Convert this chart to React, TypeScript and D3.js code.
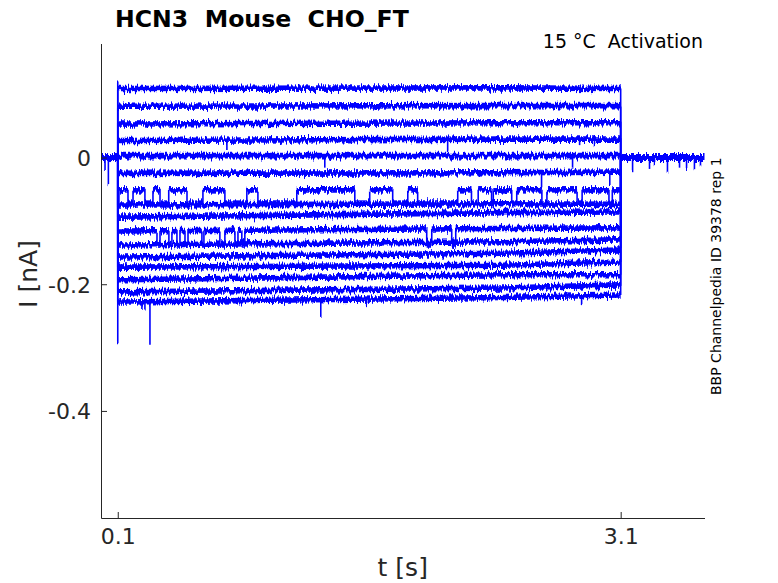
import React, { useEffect, useRef } from 'react'
import * as d3 from 'd3'

const WIDTH = 778
const HEIGHT = 583

// voltage step protocol (s)
const stepOn = 0.1
const stepOff = 3.1
const timeDomain: [number, number] = [0, 3.6]
const currentDomain: [number, number] = [-0.569, 0.18]

const timeTicks = [0.1, 3.1]
const currentTicks = [-0.4, -0.2, 0]

// times where the sweep levels were read
const sampleTimes = [0.14, 2.4, 3.09]

// level of each sweep (nA) at sampleTimes
const levelsStart = [0.109, 0.081, 0.053, 0.027, 0.003, -0.025, -0.072, -0.075, -0.094, -0.116, -0.138, -0.157, -0.173, -0.193, -0.212, -0.228]
const levelsMid = [0.110, 0.082, 0.055, 0.029, 0.003, -0.024, -0.072, -0.073, -0.087, -0.112, -0.133, -0.151, -0.170, -0.185, -0.206, -0.221]
const levelsEnd = [0.109, 0.082, 0.055, 0.029, 0.003, -0.023, -0.072, -0.074, -0.086, -0.111, -0.130, -0.146, -0.165, -0.185, -0.201, -0.217]

// sweep 7 flickers between two levels
const flickerSweep = 6
const flickerLow = -0.072
const flickerHigh = -0.051
const flickerHighTimes: [number, number][] = [
  [0.107, 0.161], [0.191, 0.262], [0.31, 0.352], [0.404, 0.513], [0.608, 0.739],
  [0.87, 0.936], [1.168, 1.514], [1.603, 1.74], [1.83, 1.889], [2.128, 2.21],
  [2.25, 2.33], [2.34, 2.45], [2.48, 2.63], [2.66, 2.84], [2.87, 3.03], [3.05, 3.1]
]

// sweep 10 dips to a lower level
const dipSweep = 9
const dipLevel = -0.138
const dipTimes: [number, number][] = [
  [0.334, 0.352], [0.405, 0.423], [0.453, 0.471], [0.501, 0.519], [0.602, 0.614],
  [0.709, 0.739], [0.799, 0.817], [0.84, 0.858], [1.943, 1.973], [2.092, 2.116]
]

// brief spikes: [sweep, time, peak]
const spikes: [number, number, number][] = [
  [3, 0.751, 0.012], [3, 2.068, 0.009], [3, 2.855, 0.018], [3, 2.944, 0.018],
  [4, 1.335, -0.016], [4, 2.813, -0.016],
  [5, 2.628, -0.047], [5, 3.035, -0.045],
  [15, 0.244, -0.239], [15, 0.262, -0.243], [15, 0.292, -0.294],
  [15, 1.311, -0.25], [15, 1.585, -0.233], [15, 2.867, -0.233]
]

// capacitive transient at step onset (nA)
const onsetTransient = [0.12, -0.293]

// holding current before / after the step
const holdingLevel = 0
const preSpikes: [number, number][] = [[0.024, -0.018], [0.044, -0.042]]
const tailSpikes: [number, number][] = [
  [3.171, -0.02], [3.272, -0.018], [3.302, -0.012], [3.379, -0.024],
  [3.451, -0.016], [3.493, -0.018], [3.54, -0.02], [3.576, -0.014]
]

const font = 'DejaVu Sans, Liberation Sans, sans-serif'
const axisColor = '#262626'
const traceColor = '#0000ff'

// matlab style tick text: plain hyphen for negatives
const tickText = (v: number) => (v === 0 ? '0' : d3.format('.1f')(v).replace('\u2212', '-'))

type Pt = [number, number]

// split a trace into horizontal runs and vertical jumps
const splitRuns = (pts: Pt[]) => {
  const runs: Pt[][] = []
  const jumps: Pt[][] = []
  let run: Pt[] = [pts[0]]
  for (let k = 1; k < pts.length; k++) {
    const prev = pts[k - 1]
    const cur = pts[k]
    if (cur[0] === prev[0]) {
      if (run.length > 1) runs.push(run)
      jumps.push([prev, cur])
      run = [cur]
    } else {
      run.push(cur)
    }
  }
  if (run.length > 1) runs.push(run)
  return { runs, jumps }
}

const App: React.FC = () => {
  const svgRef = useRef<SVGSVGElement>(null)

  useEffect(() => {
    if (!svgRef.current) return
    const svg = d3.select(svgRef.current)
    svg.selectAll('*').remove()

    const plot = { left: 101, right: 704.5, top: 43.5, bottom: 518 }

    const x = d3.scaleLinear().domain(timeDomain).range([plot.left, plot.right])
    const y = d3.scaleLinear().domain(currentDomain).range([plot.bottom, plot.top])

    // recording noise look: jitter pixel columns up/down
    const filter = svg.append('defs').append('filter')
      .attr('id', 'jitter')
      .attr('filterUnits', 'userSpaceOnUse')
      .attr('x', 0).attr('y', 0)
      .attr('width', WIDTH).attr('height', HEIGHT)
      .attr('color-interpolation-filters', 'sRGB')
    filter.append('feTurbulence')
      .attr('type', 'fractalNoise')
      .attr('baseFrequency', '0.7 0.06')
      .attr('numOctaves', 2)
      .attr('seed', 4)
      .attr('result', 'noise')
    filter.append('feColorMatrix')
      .attr('in', 'noise')
      .attr('type', 'matrix')
      .attr('values', '0 0 0 0 0.5  0 1 0 0 0  0 0 0 0 0  0 0 0 0 1')
      .attr('result', 'shift')
    filter.append('feDisplacementMap')
      .attr('in', 'SourceGraphic')
      .attr('in2', 'shift')
      .attr('scale', 9)
      .attr('xChannelSelector', 'R')
      .attr('yChannelSelector', 'G')

    const line = d3.line<Pt>()
      .x(d => x(d[0]))
      .y(d => y(d[1]))

    const baseline = (i: number) => d3.scaleLinear()
      .domain(sampleTimes)
      .range([levelsStart[i], levelsMid[i], levelsEnd[i]])
      .clamp(true)

    const sweepPoints = (i: number): Pt[] => {
      if (i === flickerSweep) {
        const pts: Pt[] = [[stepOn, holdingLevel], [stepOn, flickerLow]]
        flickerHighTimes.forEach(([a, b]) => {
          pts.push([a, flickerLow], [a, flickerHigh], [b, flickerHigh], [b, flickerLow])
        })
        pts.push([stepOff, flickerLow], [stepOff, holdingLevel])
        return pts
      }
      const levels = [levelsStart[i], levelsMid[i], levelsEnd[i]]
      const base = baseline(i)
      const dips = i === dipSweep ? dipTimes : []
      const pts: Pt[] = [[stepOn, holdingLevel], [stepOn, levels[0]]]
      let d = 0
      sampleTimes.forEach((t, k) => {
        while (d < dips.length && dips[d][0] < t) {
          const [a, b] = dips[d]
          pts.push([a, base(a)], [a, dipLevel], [b, dipLevel], [b, base(b)])
          d++
        }
        pts.push([t, levels[k]])
      })
      pts.push([stepOff, levels[2]], [stepOff, holdingLevel])
      return pts
    }

    const runs: Pt[][] = []
    const jumps: Pt[][] = []
    levelsStart.forEach((_, i) => {
      const parts = splitRuns(sweepPoints(i))
      runs.push(...parts.runs)
      jumps.push(...parts.jumps)
    })
    jumps.push([[stepOn, onsetTransient[0]], [stepOn, onsetTransient[1]]])
    spikes.forEach(([s, t, p]) => jumps.push([[t, baseline(s)(t)], [t, p]]))
    preSpikes.forEach(([t, p]) => jumps.push([[t, holdingLevel], [t, p]]))
    tailSpikes.forEach(([t, p]) => jumps.push([[t, holdingLevel], [t, p]]))

    const traces = svg.append('g')
      .attr('filter', 'url(#jitter)')
      .attr('fill', 'none')
      .attr('stroke', traceColor)

    // holding current before and after the step
    traces.selectAll('.holding')
      .data([
        [[timeDomain[0], holdingLevel], [stepOn, holdingLevel]],
        [[stepOff, holdingLevel], [timeDomain[1], holdingLevel]]
      ] as Pt[][])
      .enter()
      .append('path')
      .attr('class', 'holding')
      .attr('stroke-width', 7)
      .attr('d', d => line(d))

    traces.selectAll('.run')
      .data(runs)
      .enter()
      .append('path')
      .attr('class', 'run')
      .attr('stroke-width', 5.6)
      .attr('d', d => line(d))

    traces.selectAll('.jump')
      .data(jumps)
      .enter()
      .append('path')
      .attr('class', 'jump')
      .attr('stroke-width', 1.6)
      .attr('d', d => line(d))

    // axes
    const yAxis = svg.append('g')
      .attr('transform', `translate(${plot.left},0)`)
      .call(d3.axisLeft(y).tickValues(currentTicks).tickSizeInner(-6).tickSizeOuter(0).tickPadding(10)
        .tickFormat(d => tickText(+d)))
    yAxis.selectAll('text')
      .style('font-family', font)
      .style('font-size', '22px')
      .attr('dy', '0.36em')
      .attr('fill', axisColor)

    const xAxis = svg.append('g')
      .attr('transform', `translate(0,${plot.bottom})`)
      .call(d3.axisBottom(x).tickValues(timeTicks).tickSizeInner(-6).tickSizeOuter(0).tickPadding(10)
        .tickFormat(d => tickText(+d)))
    xAxis.selectAll('text')
      .style('font-family', font)
      .style('font-size', '22px')
      .attr('fill', axisColor)

    svg.selectAll('.domain, .tick line').attr('stroke', axisColor)

    // labels
    svg.append('text')
      .attr('x', (plot.left + plot.right) / 2)
      .attr('y', 576)
      .attr('text-anchor', 'middle')
      .style('font-family', font)
      .style('font-size', '25px')
      .attr('fill', axisColor)
      .text('t [s]')

    svg.append('text')
      .attr('transform', 'translate(37,274) rotate(-90)')
      .attr('text-anchor', 'middle')
      .style('font-family', font)
      .style('font-size', '25px')
      .attr('fill', axisColor)
      .text('I [nA]')

    svg.append('text')
      .attr('x', 115)
      .attr('y', 27)
      .style('font-family', font)
      .style('font-size', '23.6px')
      .style('font-weight', 'bold')
      .attr('fill', '#000')
      .text('HCN3\u00a0\u00a0Mouse\u00a0\u00a0CHO_FT')

    svg.append('text')
      .attr('x', 703)
      .attr('y', 48)
      .attr('text-anchor', 'end')
      .style('font-family', font)
      .style('font-size', '19px')
      .attr('fill', '#000')
      .text('15 °C\u00a0\u00a0Activation')

    svg.append('text')
      .attr('transform', 'translate(721,395) rotate(-90)')
      .style('font-family', font)
      .style('font-size', '14px')
      .attr('fill', '#000')
      .text('BBP Channelpedia ID 39378 rep 1')
  }, [])

  return (
    <svg
      ref={svgRef}
      width={WIDTH}
      height={HEIGHT}
      style={{ position: 'absolute', left: 0, top: 0, background: '#fff' }}
    />
  )
}

export default App
